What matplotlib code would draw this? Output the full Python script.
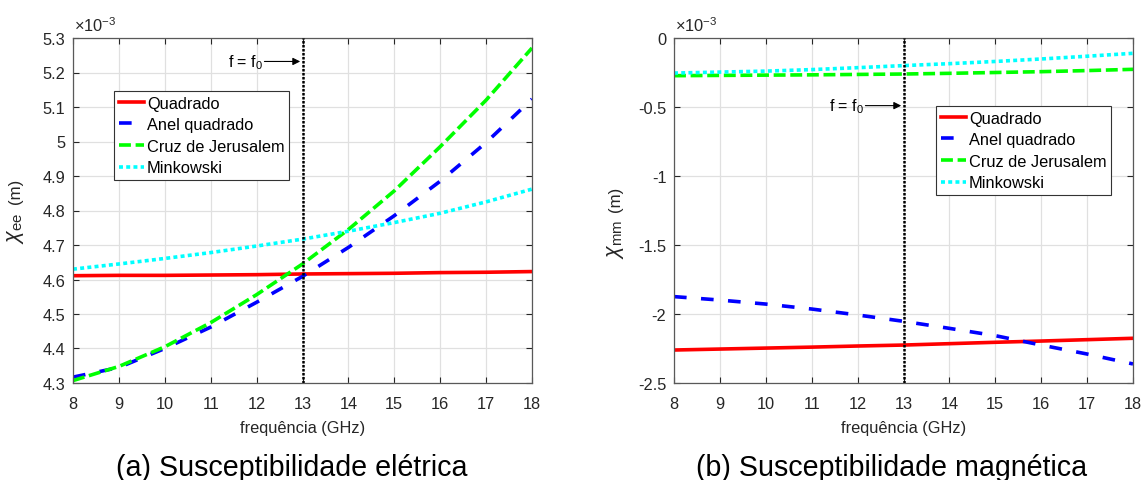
import matplotlib
matplotlib.use("Agg")
import matplotlib.pyplot as plt
from matplotlib.ticker import FuncFormatter

plt.rcParams['font.family'] = ['Liberation Sans', 'DejaVu Sans']
plt.rcParams['mathtext.fontset'] = 'custom'
plt.rcParams['mathtext.rm'] = 'Liberation Sans'
plt.rcParams['mathtext.it'] = 'Liberation Sans:italic'
plt.rcParams['mathtext.bf'] = 'Liberation Sans:bold'
plt.rcParams['axes.unicode_minus'] = False

# Frequency sweep (GHz)
freq = [8, 9, 10, 11, 12, 13, 14, 15, 16, 17, 18]
f0 = 13

# Electric susceptibility chi_ee (units of 1e-3 m)
ee_quadrado = [4.611, 4.612, 4.612, 4.613, 4.614, 4.616, 4.617, 4.618, 4.620, 4.621, 4.623]
ee_anel = [4.317, 4.345, 4.400, 4.462, 4.534, 4.609, 4.693, 4.785, 4.885, 4.997, 5.123]
ee_cruz = [4.307, 4.348, 4.405, 4.475, 4.556, 4.645, 4.745, 4.857, 4.985, 5.120, 5.271]
ee_minkowski = [4.630, 4.645, 4.661, 4.678, 4.697, 4.717, 4.740, 4.765, 4.792, 4.825, 4.862]

# Magnetic susceptibility chi_mm (units of 1e-3 m)
mm_quadrado = [-2.261, -2.254, -2.247, -2.240, -2.232, -2.225, -2.215, -2.205, -2.196, -2.186, -2.176]
mm_anel = [-1.874, -1.899, -1.928, -1.964, -2.007, -2.053, -2.104, -2.157, -2.225, -2.290, -2.362]
mm_cruz = [-0.273, -0.271, -0.269, -0.267, -0.264, -0.261, -0.256, -0.250, -0.244, -0.236, -0.227]
mm_minkowski = [-0.254, -0.247, -0.240, -0.229, -0.215, -0.200, -0.186, -0.170, -0.152, -0.132, -0.111]

labels = ['Quadrado', 'Anel quadrado', 'Cruz de Jerusalem', 'Minkowski']
colors = [(1, 0, 0), (0, 0, 1), (0, 1, 0), (0, 1, 1)]
styles = ['-', (0, (3.5, 4.0)), (0, (3.3, 1.3)), (0, (1.1, 0.9))]

x_ticks = list(range(8, 19))
ee_ticks = [4.3, 4.4, 4.5, 4.6, 4.7, 4.8, 4.9, 5.0, 5.1, 5.2, 5.3]
mm_ticks = [-2.5, -2.0, -1.5, -1.0, -0.5, 0.0]

FS = 11.8
W, H = 1144, 481

fig = plt.figure(figsize=(W / 100, H / 100), dpi=100)
ax1 = fig.add_axes([73 / W, 1 - 384 / H, 459 / W, 345 / H])
ax2 = fig.add_axes([674 / W, 1 - 384 / H, 459 / W, 345 / H])

fmt = FuncFormatter(lambda v, p: f"{v:g}")
tick_color = (0.15, 0.15, 0.15)


def style_axes(ax, yticks, ylim):
    ax.set_xlim(8, 18)
    ax.set_ylim(*ylim)
    ax.set_xticks(x_ticks)
    ax.set_yticks(yticks)
    ax.xaxis.set_major_formatter(fmt)
    ax.yaxis.set_major_formatter(fmt)
    ax.grid(True, color=(0.88, 0.88, 0.88), linewidth=0.9)
    ax.set_axisbelow(True)
    ax.tick_params(direction='in', length=4, width=0.8, top=True, right=True,
                   labelsize=FS, colors=tick_color)
    ax.tick_params(axis='x', pad=9.5)
    ax.tick_params(axis='y', pad=5.5)
    for sp in ax.spines.values():
        sp.set_color((0.35, 0.35, 0.35))
        sp.set_linewidth(0.9)
    ax.set_xlabel('frequência (GHz)', fontsize=FS, color=tick_color, labelpad=6)
    ax.text(0.003, 1.012, '×10$^{\\mathrm{-3}}$', transform=ax.transAxes,
            ha='left', va='bottom', fontsize=FS, color=tick_color)


def ylabel_pieces(symbol, x_px, unit_y_px, sym_y_px):
    # susceptibility symbol drawn larger than the unit, stacked vertically
    fig.text(x_px / W, 1 - unit_y_px / H, '(m)', rotation=90, ha='center',
             va='center', fontsize=FS + 0.3, color=tick_color)
    fig.text(x_px / W, 1 - sym_y_px / H, symbol, rotation=90, ha='center',
             va='center', fontsize=15.5, color=tick_color)


def draw_series(ax, series):
    handles = []
    for ys, lab, c, ls in zip(series, labels, colors, styles):
        h, = ax.plot(freq, ys, color=c, linestyle=ls, linewidth=2.6, label=lab)
        handles.append(h)
    ax.axvline(f0, color='k', linestyle=(0, (1, 0.6)), linewidth=1.8, zorder=5)
    return handles


def marker_f0(ax, y):
    ax.annotate('', xy=(12.95, y), xytext=(12.17, y),
                arrowprops=dict(arrowstyle='-|>', color='k', lw=0.8,
                                mutation_scale=11, shrinkA=0, shrinkB=0))
    ax.text(12.15, y, r'f = f$_{0}$', ha='right', va='center', fontsize=11.5)


h1 = draw_series(ax1, [ee_quadrado, ee_anel, ee_cruz, ee_minkowski])
style_axes(ax1, ee_ticks, (4.3, 5.3))
ylabel_pieces(r'$\chi_{\mathrm{ee}}$', 16, 191.5, 228)
marker_f0(ax1, 5.232)

h2 = draw_series(ax2, [mm_quadrado, mm_anel, mm_cruz, mm_minkowski])
style_axes(ax2, mm_ticks, (-2.5, 0.0))
ylabel_pieces(r'$\chi_{\mathrm{mm}}$', 615, 199, 239)
marker_f0(ax2, -0.49)

leg_kw = dict(loc='upper left', fontsize=FS, frameon=True, fancybox=False,
              handlelength=1.55, handletextpad=0.18, labelspacing=0.40,
              borderpad=0.28, borderaxespad=0, edgecolor=(0.2, 0.2, 0.2),
              framealpha=1)
leg1 = ax1.legend(handles=h1, bbox_to_anchor=(114 / W, 1 - 92 / H),
                  bbox_transform=fig.transFigure, **leg_kw)
leg2 = ax2.legend(handles=h2, bbox_to_anchor=(936 / W, 1 - 107 / H),
                  bbox_transform=fig.transFigure, **leg_kw)
for leg in (leg1, leg2):
    leg.get_frame().set_linewidth(0.8)
    leg.set_zorder(10)

fig.text(292 / W, 1 - 476 / H, '(a) Susceptibilidade elétrica',
         ha='center', va='baseline', fontsize=20.6)
fig.text(892 / W, 1 - 476 / H, '(b) Susceptibilidade magnética',
         ha='center', va='baseline', fontsize=20.6)

fig.savefig('out.png', dpi=100)
